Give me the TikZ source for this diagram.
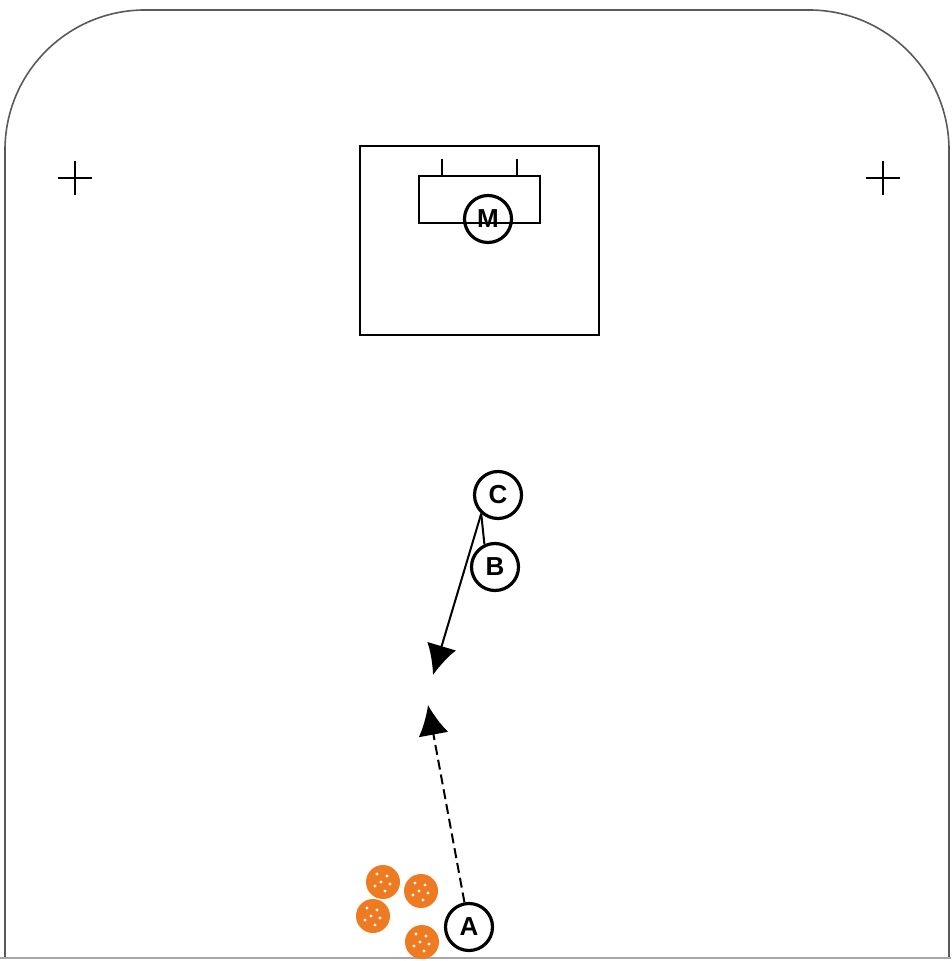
\documentclass[tikz,border=0pt]{standalone}
\usepackage{fontspec}
\setmainfont{Liberation Sans}
\usepackage{xcolor}
\usepackage{tikz}
\usetikzlibrary{arrows.meta,positioning}

\definecolor{ballorange}{HTML}{EE7A22}

\begin{document}
\begin{tikzpicture}[x=0.5pt,y=-0.5pt,>={Latex[length=15pt,width=15pt]},
  rink/.style={draw=black!65,line width=0.8pt},
  player/.style={circle,draw,line width=1.6pt,fill=white,minimum size=23.5pt,inner sep=0pt,font=\fontsize{13}{13}\selectfont\bfseries},
  pass/.style={->,line width=1pt},
  skate/.style={->,line width=1pt,dash pattern=on 5pt off 2.5pt},
  ball/.style={fill=ballorange,draw=none}]
\useasboundingbox (0,0) rectangle (951,961);
% rink boards
\draw[rink,rounded corners=70pt] (5,958) -- (5,10) -- (949,10) -- (949,958);
\draw[rink,draw=black!35] (0,958) -- (951,958);
% face-off crosses
\foreach \cx in {75,883}
  \draw[line width=0.8pt] (\cx-17,178) -- (\cx+17,178) (\cx,161) -- (\cx,195);
% crease and goal
\node[draw,line width=1pt,minimum width=119.5pt,minimum height=94.5pt,inner sep=0pt] (crease) at (479.5,240.5) {};
\node[draw,line width=1pt,minimum width=60.5pt,minimum height=23.5pt,inner sep=0pt] (goal) at (479.5,199.5) {};
\draw[line width=1pt] (442,159) -- (goal.north -| 442,0);
\draw[line width=1pt] (517,159) -- (goal.north -| 517,0);
\node[player,fill=none] (keeper) at (488,219) {M};
% players
\node[player] (playerC) at (498,495) {C};
\node[player] (playerB) at (495,567) {B};
\node[player] (playerA) at (469,927) {A};
\coordinate (passend) at (433,675);
\coordinate (runend) at (428,705);
\draw[line width=1pt] (playerC.228) -- (playerB.115);
\draw[pass] (playerC.228) -- (passend);
\draw[skate] (playerA) -- (runend);
% balls
\foreach \bx/\by in {383/882,421/891,373/916,422/942}{
  \fill[ball] (\bx,\by) circle (8.5pt);
  \foreach \dx/\dy in {-6/-8,4/-6,-2/0,7/2,-8/4,2/9}
    \fill[white] (\bx+\dx,\by+\dy) circle (0.8pt);
}
\end{tikzpicture}
\end{document}
